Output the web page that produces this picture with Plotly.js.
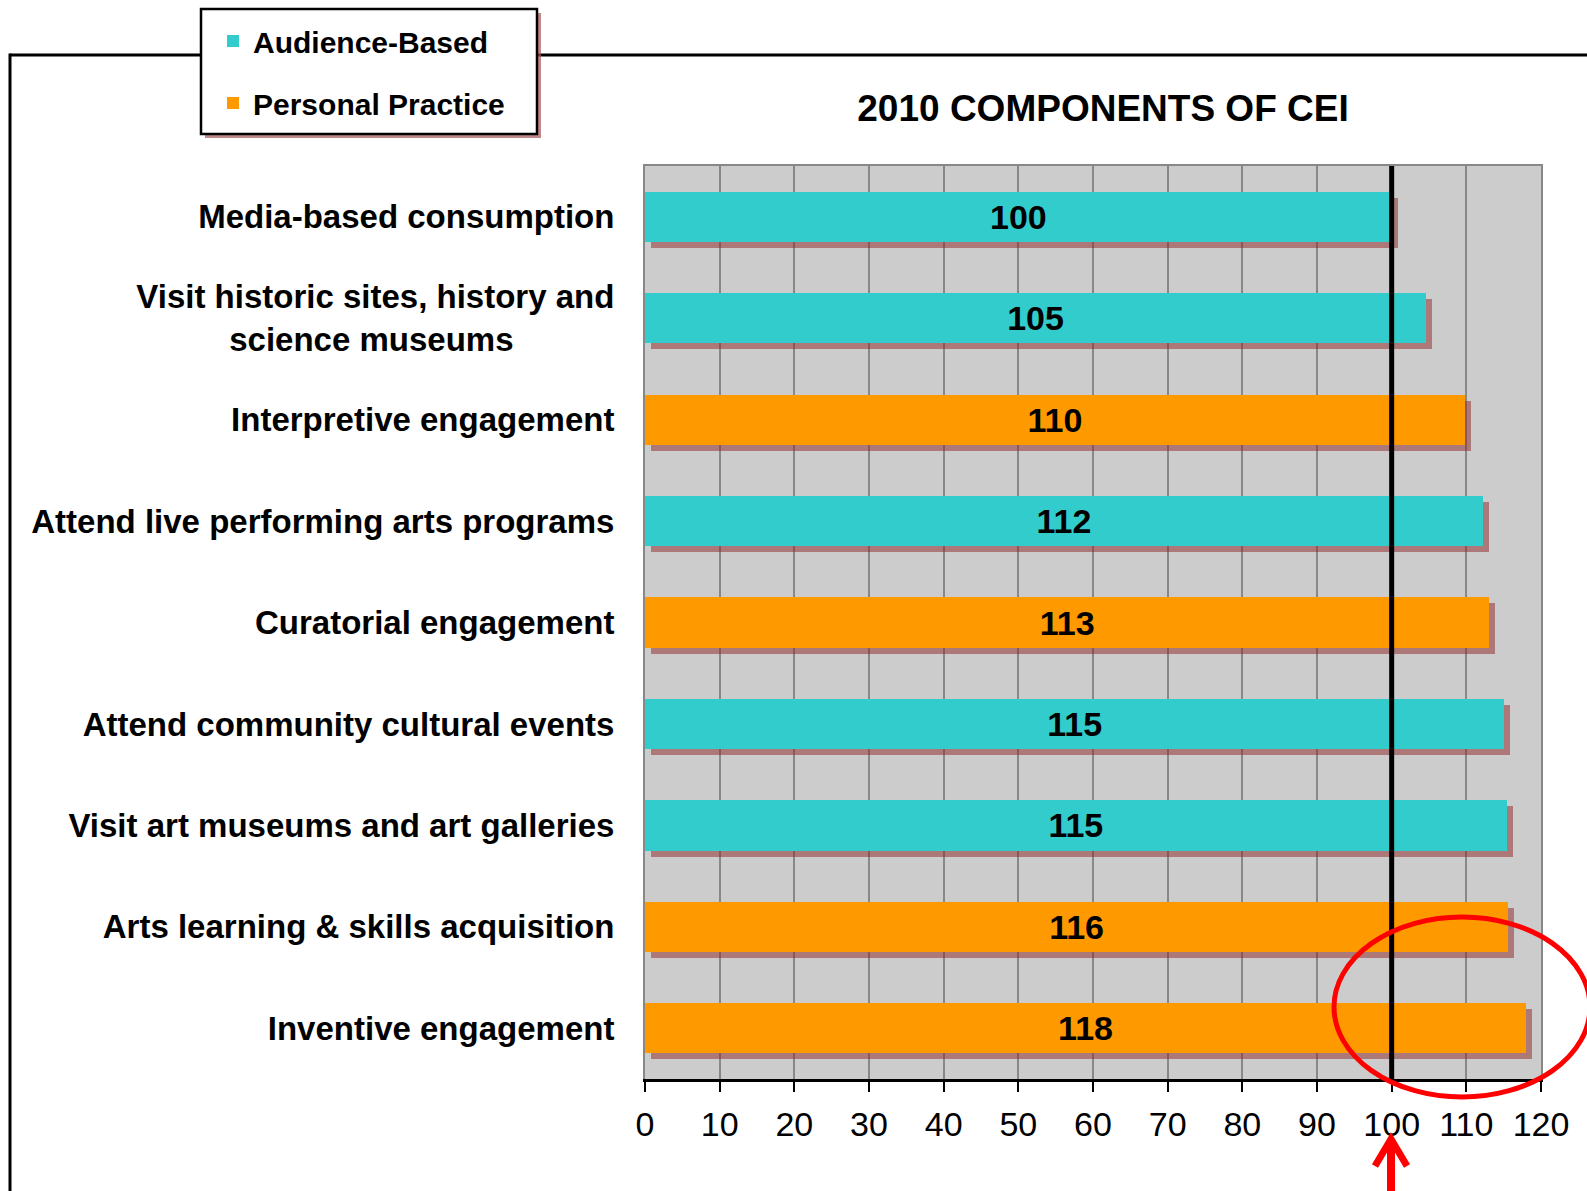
<!DOCTYPE html>
<html>
<head>
<meta charset="utf-8">
<script src="https://cdn.plot.ly/plotly-3.0.1.min.js"></script>
<style>
  html, body { margin: 0; padding: 0; background: #ffffff; overflow: hidden; }
  #chart { width: 1587px; height: 1191px; }
</style>
</head>
<body>
<div id="chart"></div>
<script>
// ---- data ----
const categoryOrder = [
  "Media-based consumption",
  "Visit historic sites, history and science museums",
  "Interpretive engagement",
  "Attend live performing arts programs",
  "Curatorial engagement",
  "Attend community cultural events",
  "Visit art museums and art galleries",
  "Arts learning & skills acquisition",
  "Inventive engagement"
];
const categoryTickText = [
  "Media-based consumption",
  "Visit historic sites, history and<br>science museums\u00a0\u00a0\u00a0\u00a0\u00a0\u00a0\u00a0\u00a0\u00a0\u00a0\u00a0",
  "Interpretive engagement",
  "Attend live performing arts programs",
  "Curatorial engagement",
  "Attend community cultural events",
  "Visit art museums and art galleries",
  "Arts learning & skills acquisition",
  "Inventive engagement"
];
const audienceName = "Audience-Based";
const audienceCats = [
  "Media-based consumption",
  "Visit historic sites, history and science museums",
  "Attend live performing arts programs",
  "Attend community cultural events",
  "Visit art museums and art galleries"
];
const audienceVals = [100, 104.6, 112.2, 115.1, 115.4];

const practiceName = "Personal Practice";
const practiceCats = [
  "Interpretive engagement",
  "Curatorial engagement",
  "Arts learning & skills acquisition",
  "Inventive engagement"
];
const practiceVals = [109.8, 113.1, 115.6, 118.0];

const xTickVals = [0, 10, 20, 30, 40, 50, 60, 70, 80, 90, 100, 110, 120];
const referenceValue = 100;
const chartTitle = "2010 COMPONENTS OF CEI";

// ---- styling ----
const FONT = "Tahoma, 'Liberation Sans', Arial, sans-serif";
const TEAL = "#33CCCC";
const ORANGE = "#FF9900";
const SHADOW = "rgba(140,35,35,0.5)";

function barTrace(name, cats, vals, color, group) {
  return {
    type: "bar", orientation: "h", name: name,
    x: vals, y: cats,
    xaxis: "x2", yaxis: "y2",
    marker: { color: color, line: { width: 0 } },
    text: vals.map(v => String(Math.round(v))),
    texttemplate: "%{text}",
    textposition: "inside",
    insidetextanchor: "middle",
    constraintext: "none",
    textfont: { family: FONT, size: 34, color: "#000000", weight: "bold" },
    legendgroup: group,
    hoverinfo: "skip"
  };
}
function shadowTrace(cats, vals) {
  return {
    type: "bar", orientation: "h",
    x: vals, y: cats,
    xaxis: "x", yaxis: "y",
    marker: { color: SHADOW, line: { width: 0 } },
    showlegend: false, hoverinfo: "skip"
  };
}

const data = [
  shadowTrace(audienceCats, audienceVals),
  shadowTrace(practiceCats, practiceVals),
  barTrace(audienceName, audienceCats, audienceVals, TEAL, "a"),
  barTrace(practiceName, practiceCats, practiceVals, ORANGE, "b")
];

// plot-area geometry helpers (paper coords)
const L = 645, R = 46, T = 166, B = 112, W = 1587, H = 1191;
const PW = W - L - R, PH = H - T - B;
const px = v => (v - L) / PW;
const py = v => (H - B - v) / PH;

const nCat = categoryOrder.length;
const shadowDx = 6 * 120 / PW;          // 6 px to the right
const shadowDy = 6 * nCat / PH;         // 6 px down

const layout = {
  width: W, height: H,
  margin: { l: L, r: R, t: T, b: B, pad: 0 },
  paper_bgcolor: "#FFFFFF",
  plot_bgcolor: "#CCCCCC",
  barmode: "stack",
  bargap: 0.505,
  showlegend: true,
  title: {
    text: "<b>" + chartTitle + "</b>",
    font: { family: FONT, size: 37, color: "#000000" },
    xref: "container", x: 1103 / W, xanchor: "center",
    yref: "container", y: 1 - 108 / H, yanchor: "middle"
  },
  legend: {
    x: px(201), y: py(15), xanchor: "left", yanchor: "top",
    bgcolor: "rgba(0,0,0,0)", bordercolor: "rgba(0,0,0,0)", borderwidth: 0,
    font: { family: FONT, size: 30, color: "#000000", weight: "bold" },
    traceorder: "grouped", tracegroupgap: 20,
    indentation: 12
  },
  // shadow axes (hidden, slightly shifted ranges)
  xaxis: {
    range: [-shadowDx, 120 - shadowDx], side: "top",
    showgrid: false, zeroline: false, showticklabels: false, ticks: "",
    showline: true, linecolor: "#888888", linewidth: 2, fixedrange: true
  },
  yaxis: {
    type: "category", categoryorder: "array", categoryarray: categoryOrder,
    range: [nCat - 0.5 - shadowDy, -0.5 - shadowDy], side: "right",
    showgrid: false, zeroline: false, showticklabels: false, ticks: "",
    showline: true, linecolor: "#888888", linewidth: 2, fixedrange: true
  },
  // visible axes
  xaxis2: {
    overlaying: "x", side: "bottom", anchor: "y2",
    range: [0, 120], tickvals: xTickVals, ticktext: xTickVals.map(String),
    showgrid: true, gridcolor: "#888888", gridwidth: 2, zeroline: false,
    ticks: "outside", ticklen: 10, tickwidth: 2, tickcolor: "#000000",
    ticklabelstandoff: 3,
    showline: true, linecolor: "#000000", linewidth: 3,
    tickfont: { family: FONT, size: 34, color: "#000000" }, fixedrange: true
  },
  yaxis2: {
    overlaying: "y", side: "left", anchor: "x2",
    type: "category", categoryorder: "array", categoryarray: categoryOrder,
    range: [nCat - 0.5, -0.5],
    tickvals: categoryOrder, ticktext: categoryTickText,
    showgrid: false, zeroline: false, ticks: "",
    ticklabelstandoff: 22,
    showline: true, linecolor: "#888888", linewidth: 2,
    tickfont: { family: FONT, size: 33, color: "#000000", weight: "bold" }, fixedrange: true
  },
  shapes: [
    // outer frame (slide border)
    { type: "line", xref: "paper", yref: "paper", x0: px(10), x1: px(1600), y0: py(55), y1: py(55),
      line: { color: "#000000", width: 3 }, layer: "above" },
    { type: "line", xref: "paper", yref: "paper", x0: px(10), x1: px(10), y0: py(53.5), y1: py(1200),
      line: { color: "#000000", width: 3 }, layer: "above" },
    // legend box: shadow, then white box with black border
    { type: "rect", xref: "paper", yref: "paper", x0: px(205), x1: px(541), y0: py(138), y1: py(13),
      fillcolor: "rgba(165,85,85,0.7)", line: { width: 0 }, layer: "above" },
    { type: "rect", xref: "paper", yref: "paper", x0: px(201), x1: px(537), y0: py(134), y1: py(9),
      fillcolor: "#FFFFFF", line: { color: "#000000", width: 2.5 }, layer: "above" },
    // reference line at 100
    { type: "line", xref: "x2", yref: "paper", x0: referenceValue, x1: referenceValue, y0: 0, y1: 1,
      line: { color: "#000000", width: 5 }, layer: "above" },
    // red highlight ellipse
    { type: "circle", xref: "paper", yref: "paper", x0: px(1334), x1: px(1590), y0: py(1097), y1: py(917),
      line: { color: "#FF0000", width: 5 }, fillcolor: "rgba(0,0,0,0)", layer: "above" },
    // red arrow
    { type: "path", xref: "paper", yref: "paper",
      path: "M " + px(1391) + "," + py(1200) + " L " + px(1391) + "," + py(1140),
      line: { color: "#FF0000", width: 8 }, layer: "above" },
    { type: "path", xref: "paper", yref: "paper",
      path: "M " + px(1375) + "," + py(1166) + " L " + px(1391) + "," + py(1139) + " L " + px(1407) + "," + py(1166),
      line: { color: "#FF0000", width: 7 }, layer: "above" }
  ]
};

Plotly.newPlot("chart", data, layout, { displayModeBar: false, staticPlot: true });
</script>
</body>
</html>
